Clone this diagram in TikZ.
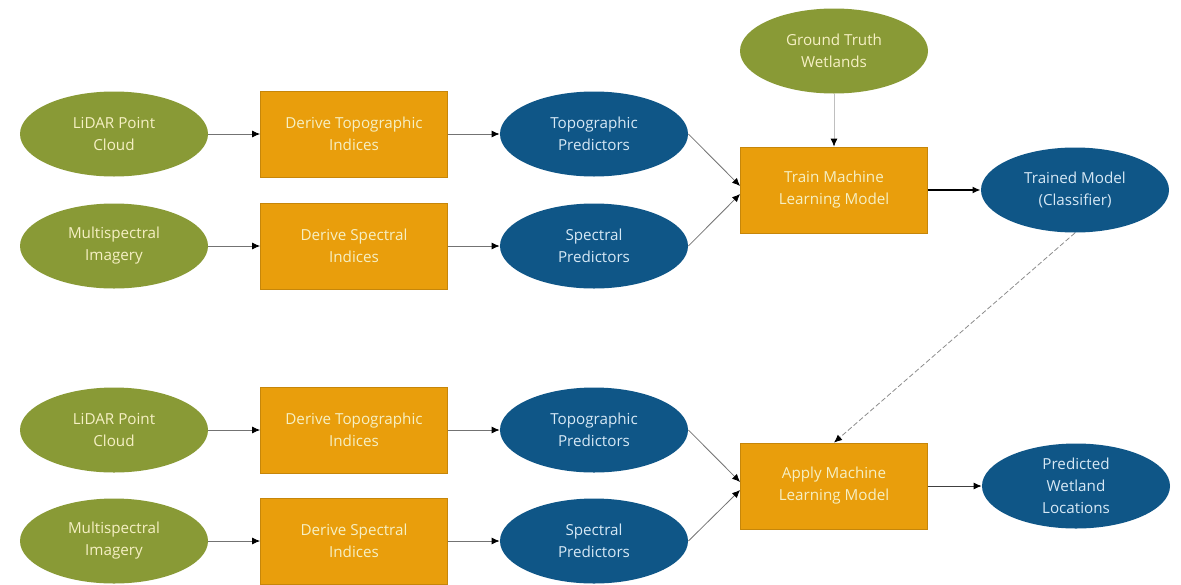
\documentclass[tikz,border=0pt]{standalone}
\usepackage{fontspec}
\setmainfont{Open Sans}
\usetikzlibrary{shapes.geometric, arrows.meta}

\definecolor{wetgreen}{RGB}{137,154,54}
\definecolor{wetorange}{RGB}{233,158,12}
\definecolor{wetblue}{RGB}{15,86,135}
\definecolor{paletext}{RGB}{246,240,196}
\definecolor{bluetext}{RGB}{214,232,245}

\begin{document}
\begin{tikzpicture}[x=0.5pt, y=-0.5pt]
        \tikzstyle{every node}=[font=\fontsize{7.6}{11}\selectfont, align=center, inner sep=0pt]
        \tikzstyle{data}=[ellipse, fill=wetgreen, text=paletext, minimum width=94pt, minimum height=42.5pt]
        \tikzstyle{tool}=[rectangle, fill=wetorange, draw=wetorange!85!black, text=paletext, minimum width=93.5pt, minimum height=43pt]
        \tikzstyle{result}=[ellipse, fill=wetblue, text=bluetext, minimum width=94pt, minimum height=42.5pt]
        \tikzstyle{link}=[-{Latex[length=4pt,width=3.5pt,black]}, draw=black!55]

        \useasboundingbox (0,0) rectangle (1181,584);

        % training
        \node[data] (T_1) at (114,134) {LiDAR Point\\Cloud};
        \node[data] (T_2) at (114,246) {Multispectral\\Imagery};
        \node[tool] (T_3) at (354,134) {Derive Topographic\\Indices};
        \node[tool] (T_4) at (354,246) {Derive Spectral\\Indices};
        \node[result] (T_5) at (594,134) {Topographic\\Predictors};
        \node[result] (T_6) at (594,246) {Spectral\\Predictors};
        \node[tool] (T_7) at (834,190) {Train Machine\\Learning Model};
        \node[result] (T_8) at (1075,190) {Trained Model\\(Classifier)};
        \node[data] (T_9) at (834,51) {Ground Truth\\Wetlands};

        % prediction
        \node[data] (A_1) at (114,430) {LiDAR Point\\Cloud};
        \node[data] (A_2) at (114,541) {Multispectral\\Imagery};
        \node[tool] (A_3) at (354,430) {Derive Topographic\\Indices};
        \node[tool] (A_4) at (354,541) {Derive Spectral\\Indices};
        \node[result] (A_5) at (594,430) {Topographic\\Predictors};
        \node[result] (A_6) at (594,541) {Spectral\\Predictors};
        \node[tool] (A_7) at (834,486) {Apply Machine\\Learning Model};
        \node[result] (A_8) at (1076,486) {Predicted\\Wetland\\Locations};

        \draw[link] (T_1) -- (T_3);
        \draw[link] (T_2) -- (T_4);
        \draw[link] (T_3) -- (T_5);
        \draw[link] (T_4) -- (T_6);
        \draw[link] (T_5.east) -- ([yshift=2pt]T_7.west);
        \draw[link] (T_6.east) -- ([yshift=-2pt]T_7.west);
        \draw[link, draw=black!25] (T_9) -- (T_7);
        \draw[link, draw=black, thick] (T_7) -- (T_8);
        \draw[link, draw=black!45, dash pattern=on 2.5pt off 1.2pt] (T_8.south) -- (A_7.north);

        \draw[link] (A_1) -- (A_3);
        \draw[link] (A_2) -- (A_4);
        \draw[link] (A_3) -- (A_5);
        \draw[link] (A_4) -- (A_6);
        \draw[link] (A_5.east) -- ([yshift=2pt]A_7.west);
        \draw[link] (A_6.east) -- ([yshift=-2pt]A_7.west);
        \draw[link, draw=black!75] (A_7) -- (A_8);
    \end{tikzpicture}
\end{document}
